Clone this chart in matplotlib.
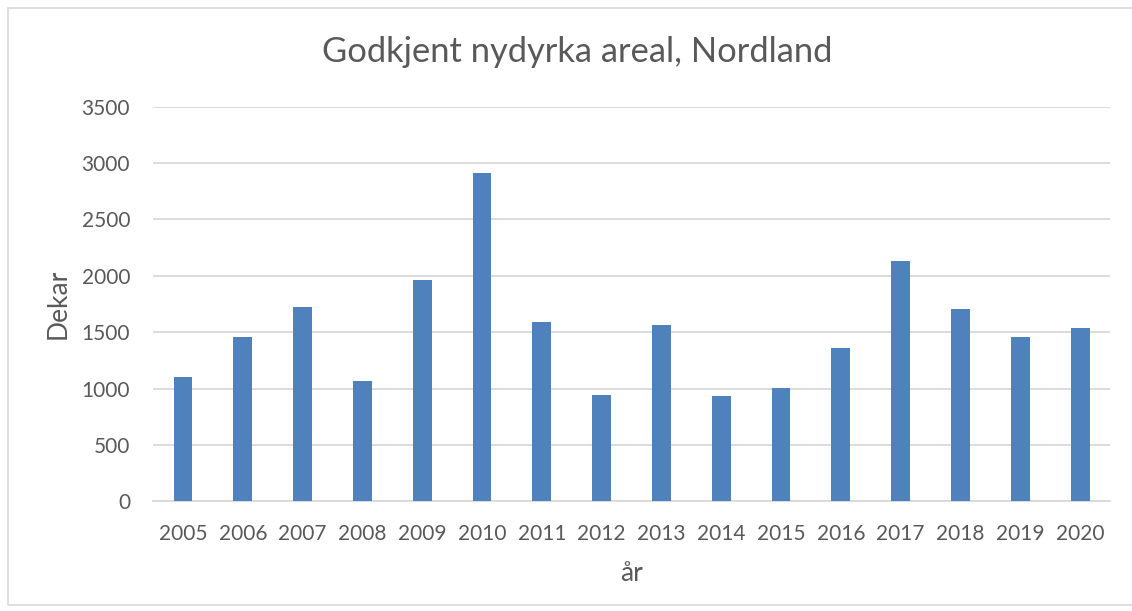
import matplotlib.pyplot as plt
from matplotlib.patches import Rectangle

years = ['2005', '2006', '2007', '2008', '2009', '2010', '2011', '2012',
         '2013', '2014', '2015', '2016', '2017', '2018', '2019', '2020']
dekar = [1103, 1460, 1720, 1067, 1960, 2909, 1590, 940,
         1567, 934, 1008, 1360, 2128, 1709, 1457, 1537]
yticks = [0, 500, 1000, 1500, 2000, 2500, 3000, 3500]

text_color = '#595959'
grid_color = '#d9d9d9'
plt.rcParams['font.family'] = ['Lato', 'DejaVu Sans']

fig = plt.figure(figsize=(11.32, 6.11), dpi=100)
ax = fig.add_axes([0.1352, 0.1795, 0.8454, 0.6459])

x = range(len(years))
ax.bar(x, dekar, width=0.315, color='#4f81bd', zorder=3)

ax.set_xlim(-0.5, len(years) - 0.5)
ax.set_ylim(0, 3500)
ax.set_yticks(yticks)
ax.set_xticks(list(x))
ax.set_xticklabels(years)
ax.tick_params(axis='both', length=0, labelsize=15, colors=text_color)
ax.tick_params(axis='x', pad=16.5)
ax.tick_params(axis='y', pad=16.5)
ax.yaxis.grid(True, color=grid_color, linewidth=1.3, zorder=0)
for s in ['top', 'right', 'left']:
    ax.spines[s].set_visible(False)
ax.spines['bottom'].set_color(grid_color)
ax.spines['bottom'].set_linewidth(1.3)

fig.text(577 / 1132, 1 - 52 / 611, 'Godkjent nydyrka areal, Nordland',
         fontsize=24.8, color=text_color, ha='center', va='center')
ax.set_ylabel('Dekar', fontsize=19, color=text_color, labelpad=8)
ax.set_xlabel('år', fontsize=19, color=text_color, labelpad=12)

# chart border
fig.patches.append(Rectangle((8 / 1132, 6 / 611), 1130 / 1132, 597 / 611,
                             transform=fig.transFigure, fill=False,
                             edgecolor=grid_color, linewidth=1.2))

fig.savefig('out.png', dpi=100)
